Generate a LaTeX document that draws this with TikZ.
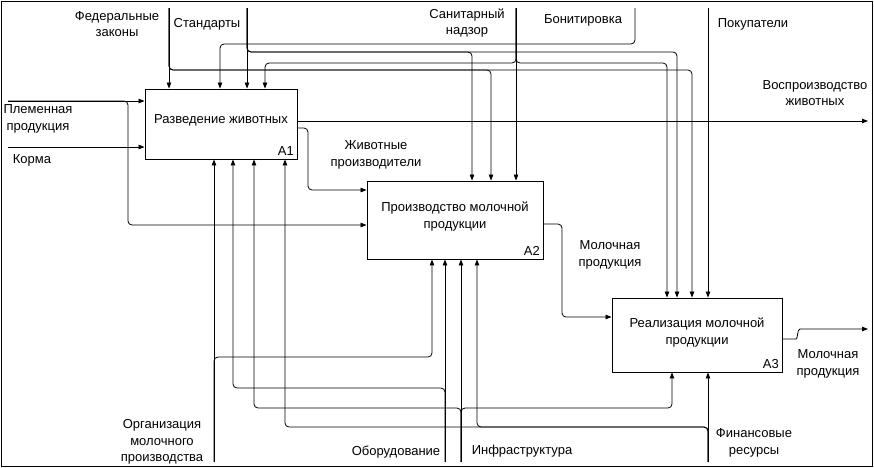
\documentclass[tikz,border=0pt]{standalone}
\usepackage{fontspec}
\setmainfont{Liberation Sans}
\usetikzlibrary{arrows.meta}

\begin{document}
\begin{tikzpicture}[x=1pt, y=-1pt,
        every node/.style={font=\fontsize{13pt}{16.5pt}\selectfont},
        box/.style={draw, line width=0.9pt, inner sep=0pt},
        num/.style={anchor=south east, inner sep=3.5pt},
        lbl/.style={align=center, inner sep=0pt},
        flow/.style={line width=0.8pt, rounded corners=4pt, -{Triangle[length=6pt,width=4.5pt]}}]
        \useasboundingbox (0,0) rectangle (874,467);
        \draw[line width=0.8pt] (1.5,1.5) rectangle (872,466);

        \node[box, minimum width=152pt, minimum height=70pt] (a1) at (221,124) {};
        \node[box, minimum width=176pt, minimum height=78pt] (a2) at (455,220) {};
        \node[box, minimum width=170pt, minimum height=74pt] (a3) at (697,335) {};
        \node[lbl, yshift=3.5pt] (a1t) at (a1) {Разведение животных};
        \node[lbl, yshift=3.5pt] (a2t) at (a2) {Производство молочной\\продукции};
        \node[lbl, yshift=2.5pt] (a3t) at (a3) {Реализация молочной\\продукции};
        \node[num] (a1n) at (a1.south east) {A1};
        \node[num] (a2n) at (a2.south east) {A2};
        \node[num] (a3n) at (a3.south east) {A3};

        \coordinate (fz) at (169,8);
        \coordinate (st) at (247,8);
        \coordinate (sn) at (516,8);
        \coordinate (bn) at (635,8);
        \coordinate (pk) at (708,8);
        \coordinate (pp) at (8,101);
        \coordinate (km) at (8,147);
        \coordinate (om) at (214,462);
        \coordinate (ob) at (445,462);
        \coordinate (inf) at (461,462);
        \coordinate (fr) at (708,462);
        \coordinate (vz) at (868,121);
        \coordinate (mp) at (868,329);

        \draw[flow] (fz) -- (fz |- a1.north);
        \draw[flow] (fz) |- (491,70) -- (491,0 |- a2.north);
        \draw[flow] (fz) |- (692,70) -- (692,0 |- a3.north);
        \draw[flow] (st) -- (st |- a1.north);
        \draw[flow] (st) |- (472,52) -- (472,0 |- a2.north);
        \draw[flow] (st) |- (677,52) -- (677,0 |- a3.north);
        \draw[flow] (sn) -- (sn |- a2.north);
        \draw[flow] (sn) |- (265,63) -- (265,0 |- a1.north);
        \draw[flow] (sn) |- (667,63) -- (667,0 |- a3.north);
        \draw[flow] (bn) |- (220,44) -- (220,0 |- a1.north);
        \draw[flow] (pk) -- (pk |- a3.north);

        \draw[flow] (pp) -- (pp -| a1.west);
        \draw[flow] (pp) -| (128,225) -- (a2.west |- 0,225);
        \draw[flow] (km) -- (km -| a1.west);

        \draw[flow] (a1.east |- vz) -- (vz);
        \draw[flow] (a1.east |- 0,128) -| (308,190) -- (a2.west |- 0,190);
        \draw[flow] (a2.east |- 0,224) -| (562,317) -- (a3.west |- 0,317);
        \draw[flow] (a3.east |- 0,339) -- (792,339) .. controls (798,339) and (797,329) .. (804,329) -- (mp);

        \draw[flow] (om) -- (om |- a1.south);
        \draw[flow] (om) |- (432,357) -- (432,0 |- a2.south);
        \draw[flow] (ob) -- (ob |- a2.south);
        \draw[flow] (ob) |- (233,388) -- (233,0 |- a1.south);
        \draw[flow] (inf) -- (inf |- a2.south);
        \draw[flow] (inf) |- (254,408) -- (254,0 |- a1.south);
        \draw[flow] (inf) |- (672,408) -- (672,0 |- a3.south);
        \draw[flow] (fr) -- (fr |- a3.south);
        \draw[flow] (fr) |- (285,427) -- (285,0 |- a1.south);
        \draw[flow] (fr) |- (477,427) -- (477,0 |- a2.south);

        \node[lbl] (tfz) at (117,24) {Федеральные\\законы};
        \node[lbl] (tst) at (207,24) {Стандарты};
        \node[lbl] (tsn) at (467,23) {Санитарный\\надзор};
        \node[lbl] (tbn) at (583,20) {Бонитировка};
        \node[lbl] (tpk) at (753,24) {Покупатели};
        \node[lbl] (tvz) at (815,93) {Воспроизводство\\животных};
        \node[lbl] (tpp) at (38,119) {Племенная\\продукция};
        \node[lbl] (tkm) at (32,160) {Корма};
        \node[lbl] (tzp) at (376,155) {Животные\\производители};
        \node[lbl] (tmp1) at (610,255) {Молочная\\продукция};
        \node[lbl] (tmp2) at (828,364) {Молочная\\продукция};
        \node[lbl] (tom) at (162,442) {Организация\\молочного\\производства};
        \node[lbl] (tob) at (396,452) {Оборудование};
        \node[lbl] (tinf) at (522,451) {Инфраструктура};
        \node[lbl] (tfr) at (754,443) {Финансовые\\ресурсы};
    \end{tikzpicture}
\end{document}
